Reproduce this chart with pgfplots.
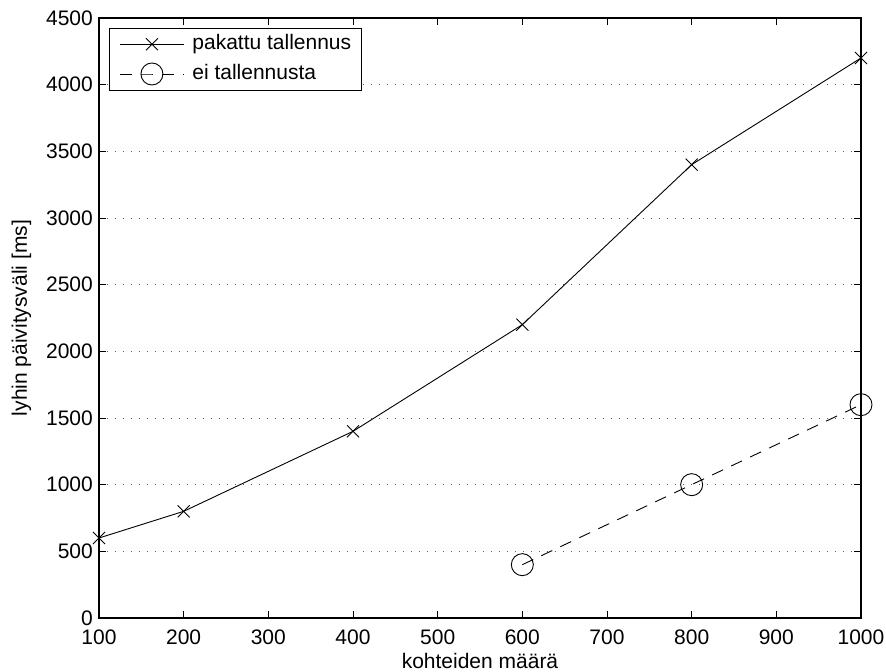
\documentclass[border=0pt]{standalone}
\usepackage{fontspec}
\setmainfont{Liberation Sans}
\usepackage{pgfplots}
\pgfplotsset{compat=1.18}
\begin{document}
\begin{tikzpicture}[font=\fontsize{21bp}{25bp}\selectfont]
\useasboundingbox (-99bp,-54bp) rectangle (787bp,618bp);
\begin{axis}[
  at={(0,0)}, anchor=south west,
  scale only axis, width=762bp, height=600bp,
  xmin=100, xmax=1000, ymin=0, ymax=4500,
  xtick={100,200,...,1000},
  ytick={0,500,...,4500},
  /pgf/number format/1000 sep={},
  /pgf/number format/assume math mode=true,
  tick label style={font=\fontsize{21bp}{25bp}\selectfont},
  yticklabel style={inner sep=0pt, xshift=-6bp},
  xticklabel style={inner sep=0pt, yshift=-12bp},
  major tick length=7bp,
  tick align=inside, tick pos=both,
  every tick/.style={black, line width=0.6bp},
  axis line style={line width=1.2bp},
  ymajorgrids,
  major grid style={black!65, line width=0.8bp, dash pattern=on 1bp off 7bp},
  xlabel={kohteiden määrä},
  ylabel={lyhin päivitysväli [ms]},
  xlabel style={at={(axis description cs:0.5,0)}, anchor=base, yshift=-50bp, inner sep=0pt},
  ylabel style={at={(axis description cs:0,0.5)}, anchor=base, yshift=72bp, inner sep=0pt},
  label style={font=\fontsize{21bp}{25bp}\selectfont},
  clip=false,
  legend cell align=left,
  legend style={at={(0,1)}, anchor=north west, xshift=10bp, yshift=-10bp,
    draw=black, line width=1bp, inner xsep=10bp, inner ysep=6bp,
    row sep=9bp, column sep=0bp,
    font=\fontsize{21bp}{25bp}\selectfont,
    nodes={inner sep=0pt, text height=15bp, text depth=4.5bp}},
  legend image code/.code={
    \draw[mark repeat=2, mark phase=2, #1]
      plot coordinates {(0bp,0bp) (32bp,0bp) (64bp,0bp)};
    \node[anchor=west, minimum width=72bp, inner sep=0pt] at (0bp,0bp) {};
  },
]
\addplot[black, line width=0.9bp, mark=x, mark size=8.5bp,
  mark options={solid, line width=0.9bp}]
  coordinates {(100,600) (200,800) (400,1400) (600,2200) (800,3400) (1000,4200)};
\addlegendentry{pakattu tallennus}
\addplot[black, line width=0.9bp, dash pattern=on 12bp off 9bp,
  mark=o, mark size=11bp, mark options={solid, line width=0.9bp, fill=none}]
  coordinates {(600,400) (800,1000) (1000,1600)};
\addlegendentry{ei tallennusta}
\end{axis}
\end{tikzpicture}
\end{document}
